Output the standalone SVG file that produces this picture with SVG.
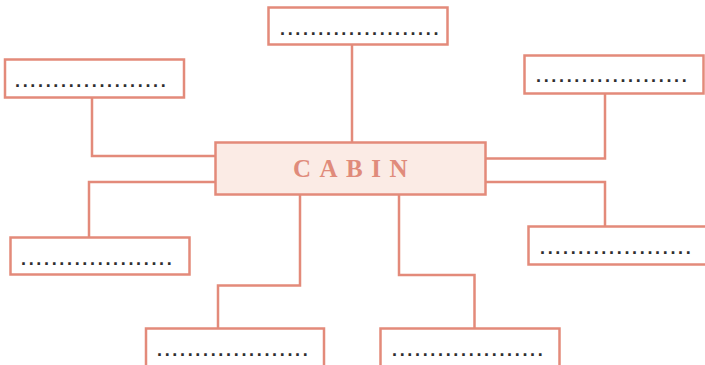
<svg xmlns="http://www.w3.org/2000/svg" width="705" height="365" viewBox="0 0 705 365">
<style>
.box{fill:#ffffff;stroke:#e38a7a;stroke-width:2.5}
.center{fill:#fbebe5;stroke:#e38a7a;stroke-width:2.5}
.conn{fill:none;stroke:#e38a7a;stroke-width:2.5}
.dots{font-family:"Liberation Sans",Arial,sans-serif;font-size:18px;font-weight:bold;fill:#2f2f2f;letter-spacing:2.67px}
.title{font-family:"Liberation Serif","Times New Roman",serif;font-size:25px;font-weight:bold;fill:#e08b7b;letter-spacing:8.5px}
</style>
<rect width="705" height="365" fill="#ffffff"/>
<g id="connectors">
<path class="conn" d="M352 45 V142"/>
<path class="conn" d="M92 98 V156 H216"/>
<path class="conn" d="M605 94 V158.5 H485"/>
<path class="conn" d="M216 182 H89 V238"/>
<path class="conn" d="M485 182 H605 V226"/>
<path class="conn" d="M300 195 V285.5 H218 V329"/>
<path class="conn" d="M399 195 V275 H474.5 V329"/>
</g>
<g id="center">
<rect class="center" x="215.5" y="142.5" width="270" height="52"/>
<text class="title" x="293" y="177">CABIN</text>
</g>
<g id="top">
<rect class="box" x="268.5" y="7.5" width="179" height="37"/>
<text class="dots" x="280" y="34.5">.....................</text>
</g>
<g id="left-top">
<rect class="box" x="5" y="59.5" width="179" height="38"/>
<text class="dots" x="15" y="86.5">....................</text>
</g>
<g id="right-top">
<rect class="box" x="524.5" y="55.5" width="179" height="38"/>
<text class="dots" x="536" y="82">....................</text>
</g>
<g id="left-bottom">
<rect class="box" x="10.5" y="237.5" width="179" height="37"/>
<text class="dots" x="21" y="265">....................</text>
</g>
<g id="right-bottom">
<rect class="box" x="528.5" y="226.5" width="179" height="38"/>
<text class="dots" x="540" y="253.5">....................</text>
</g>
<g id="bottom-left">
<rect class="box" x="146" y="328.5" width="178" height="40"/>
<text class="dots" x="157" y="355.5">....................</text>
</g>
<g id="bottom-right">
<rect class="box" x="380.5" y="328.5" width="179" height="40"/>
<text class="dots" x="392" y="355.5">....................</text>
</g>
</svg>
